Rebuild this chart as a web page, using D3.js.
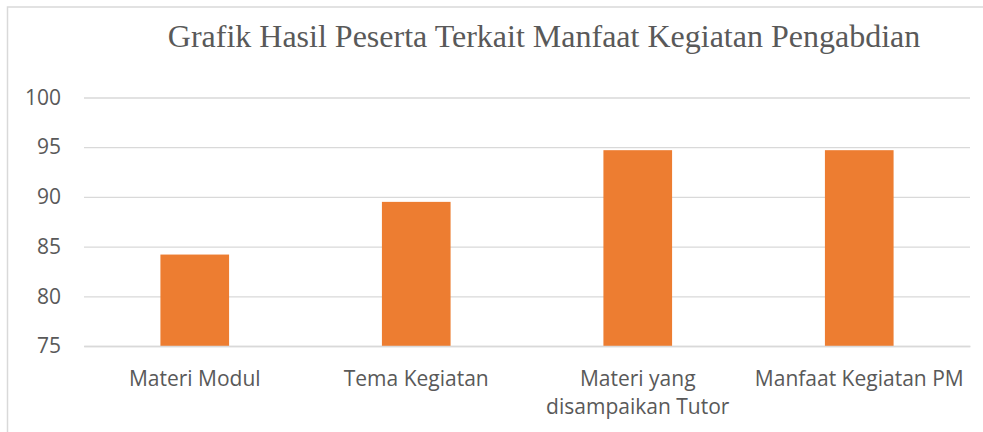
<!DOCTYPE html>
<meta charset="utf-8">
<script src="https://d3js.org/d3.v7.min.js"></script>
<style>
  body { margin: 0; background: #fff; }
  svg { display: block; }
</style>
<body>
<div id="chart"></div>
<script>
// data
var categories = ["Materi Modul", "Tema Kegiatan", "Materi yang disampaikan Tutor", "Manfaat Kegiatan PM"];
var values = [84.2, 89.5, 94.7, 94.7];
var tickLabels = [["Materi Modul"], ["Tema Kegiatan"], ["Materi yang", "disampaikan Tutor"], ["Manfaat Kegiatan PM"]];
var yTicks = [75, 80, 85, 90, 95, 100];
var title = "Grafik Hasil Peserta Terkait Manfaat Kegiatan Pengabdian";

var W = 983, H = 432;
var plotLeft = 84, plotRight = 970, plotTop = 97.5, plotBottom = 346;
var labelFont = "'Open Sans', Lato, sans-serif";
var labelSize = "21px";

var svg = d3.select("#chart").append("svg")
  .attr("width", W)
  .attr("height", H);

// outer chart frame
svg.append("rect")
  .attr("x", 7.5).attr("y", 7)
  .attr("width", W + 20).attr("height", H + 20)
  .attr("fill", "none")
  .attr("stroke", "#d9d9d9")
  .attr("stroke-width", 1.5);

var x = d3.scaleBand()
  .domain(categories)
  .range([plotLeft, plotRight])
  .paddingInner(0.69)
  .paddingOuter(0.345);

var y = d3.scaleLinear()
  .domain([75, 100])
  .range([plotBottom, plotTop]);

// y axis + gridlines
var yAxis = svg.append("g")
  .attr("transform", "translate(" + plotLeft + ",0)")
  .call(d3.axisLeft(y).tickValues(yTicks).tickSize(-(plotRight - plotLeft)).tickPadding(23));
yAxis.select(".domain").remove();
yAxis.selectAll(".tick line")
  .attr("stroke", "#d9d9d9")
  .attr("stroke-width", 1.3);
yAxis.selectAll(".tick text")
  .attr("fill", "#595959")
  .style("font-family", labelFont)
  .style("font-size", labelSize);

// bars
svg.selectAll("rect.bar")
  .data(values)
  .enter()
  .append("rect")
    .attr("class", "bar")
    .attr("x", function(d, i) { return x(categories[i]); })
    .attr("y", function(d) { return y(d); })
    .attr("width", x.bandwidth())
    .attr("height", function(d) { return y(75) - y(d); })
    .attr("fill", "#ed7d31");

// x axis labels
var xAxis = svg.append("g")
  .attr("transform", "translate(0," + plotBottom + ")")
  .call(d3.axisBottom(x).tickSize(0).tickFormat(""));
xAxis.select(".domain").attr("stroke", "#d9d9d9").attr("stroke-width", 1.3);

xAxis.selectAll(".tick").each(function(d, i) {
  var t = d3.select(this).append("text")
    .attr("fill", "#595959")
    .attr("text-anchor", "middle")
    .style("font-family", labelFont)
    .style("font-size", labelSize);
  tickLabels[i].forEach(function(line, j) {
    t.append("tspan")
      .attr("x", 0)
      .attr("y", 39.5 + j * 28.5)
      .text(line);
  });
});

// title
svg.append("text")
  .attr("x", 544)
  .attr("y", 47)
  .attr("text-anchor", "middle")
  .attr("fill", "#595959")
  .style("font-family", "'Liberation Serif', 'Times New Roman', serif")
  .style("font-size", "32px")
  .text(title);
</script>
</body>
